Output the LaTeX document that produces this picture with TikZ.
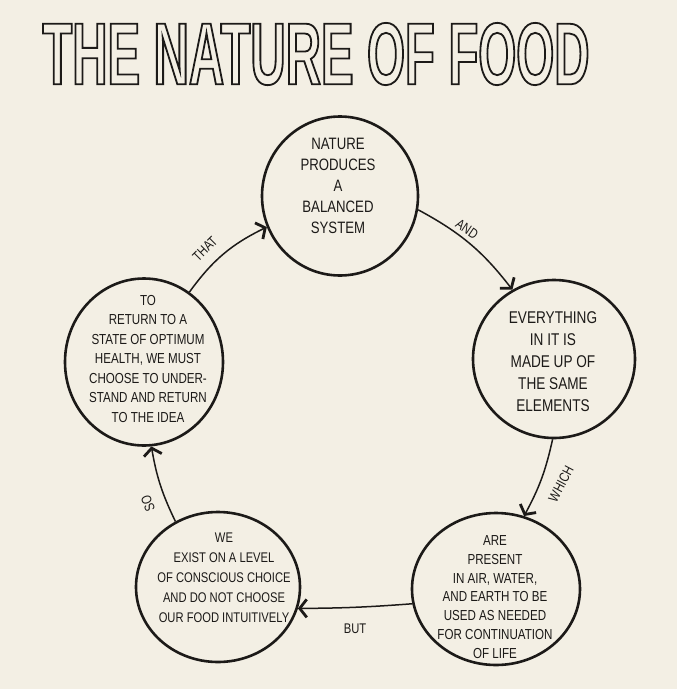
\documentclass[tikz,border=0pt]{standalone}
\usepackage{fontspec}
\setmainfont{Liberation Sans}
\newfontfamily\hand[FakeStretch=0.8]{Liberation Sans}
\newfontfamily\titlefont[FakeStretch=0.555]{Liberation Sans Bold}
\usetikzlibrary{arrows.meta,shapes.geometric}
\definecolor{paper}{RGB}{243,239,228}
\definecolor{ink}{RGB}{28,26,24}
\newcommand\handsize[2]{\hand\fontsize{#1}{#2}\selectfont}
\begin{document}
\begin{tikzpicture}[x=1pt,y=-1pt,
  bubble/.style={ellipse, draw=ink, line width=2.6pt, inner sep=0pt},
  txt/.style={align=center, text=ink, inner sep=0pt},
  link/.style={draw=ink, line width=1.5pt, -{Straight Barb[length=7pt,width=18pt,line width=2.8pt]}},
  lbl/.style={font=\handsize{14}{14}, text=ink, inner sep=0pt}]
\fill[paper] (0,0) rectangle (677,689);
\useasboundingbox (0,0) rectangle (677,689);

% title (outlined letters)
\node[inner sep=0pt, text=ink] (title) at (316,54)
  {\special{pdf:code 1 Tr 1.8 w}\titlefont\fontsize{88}{88}\selectfont THE NATURE OF FOOD\special{pdf:code 0 Tr}};

% circles
\node[bubble, minimum width=156pt, minimum height=159pt] (T)  at (340,196) {};
\node[bubble, minimum width=162pt, minimum height=158pt] (R)  at (554,359) {};
\node[bubble, minimum width=168pt, minimum height=152pt] (BR) at (496,589) {};
\node[bubble, minimum width=164pt, minimum height=150pt] (BL) at (218,587) {};
\node[bubble, minimum width=158pt, minimum height=167pt] (L)  at (144,362) {};

% texts
\node[txt, font=\handsize{16.5}{21}] (tT) at (338,186)
  {NATURE\\PRODUCES\\A\\BALANCED\\SYSTEM};
\node[txt, font=\handsize{17}{22}] (tR) at (553,362)
  {EVERYTHING\\IN IT IS\\MADE UP OF\\THE SAME\\ELEMENTS};
\node[txt, font=\handsize{14.5}{18.7}] (tBR) at (495,597)
  {ARE\\PRESENT\\IN AIR, WATER,\\AND EARTH TO BE\\USED AS NEEDED\\FOR CONTINUATION\\OF LIFE};
\node[txt, font=\handsize{14}{20}] (tBL) at (224,578)
  {WE\\EXIST ON A LEVEL\\OF CONSCIOUS CHOICE\\AND DO NOT CHOOSE\\OUR FOOD INTUITIVELY};
\node[txt, font=\handsize{14.5}{19.5}] (tL) at (148,359)
  {TO\\RETURN TO A\\STATE OF OPTIMUM\\HEALTH, WE MUST\\CHOOSE TO UNDER-\\STAND AND RETURN\\TO THE IDEA};

% connectors
\draw[link] (L.57) to[bend left=14] (T.203);
\draw[link] (T.-10) to[bend left=12] (R.121);
\draw[link] (R.269) to[bend left=8] (BR.69);
\draw[link] (BR.190) to[bend left=2] (BL.-15);
\draw[link] (BL.123) to[bend left=8] (L.275);

% connector labels
\node[lbl, rotate=45]  (lThat)  at (205,249) {THAT};
\node[lbl, rotate=-34] (lAnd)   at (467,229) {AND};
\node[lbl, rotate=62]  (lWhich) at (561,484) {WHICH};
\node[lbl]             (lBut)   at (355,629) {BUT};
\node[lbl, rotate=110] (lSo)    at (148,504) {SO};
\end{tikzpicture}
\end{document}
